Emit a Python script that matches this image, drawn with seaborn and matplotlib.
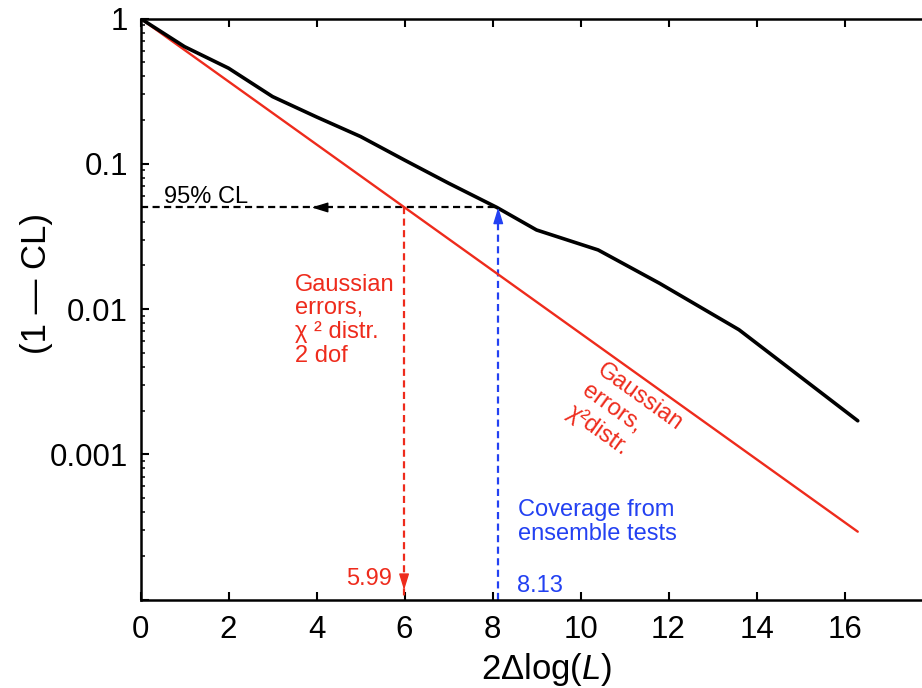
import matplotlib
matplotlib.use("Agg")
import matplotlib.pyplot as plt
import pandas as pd
import seaborn as sns
from matplotlib.ticker import FixedLocator, FixedFormatter, LogLocator, NullFormatter, NullLocator

# ---------------- data ----------------
coverage_x = [0, 1, 2, 3, 4, 5, 6, 7, 8.1, 9, 10.4, 11.8, 13.6, 16.3]
coverage_y = [1.0, 0.64, 0.455, 0.29, 0.21, 0.154, 0.106, 0.0735, 0.05,
              0.035, 0.0255, 0.015, 0.0072, 0.0017]
gauss_x = [0, 16.3]
gauss_y = [1.0, 2.93e-4]
cl_level = 0.05
gauss_cut = 5.99
coverage_cut = 8.13
x_ticks = [0, 2, 4, 6, 8, 10, 12, 14, 16]
y_ticks = [1e-4, 1e-3, 1e-2, 1e-1, 1]
y_tick_labels = ["", "0.001", "0.01", "0.1", "1"]

RED = "#EE2B1C"
BLUE = "#2341F2"

sns.set_theme(style="ticks")
plt.rcParams["font.family"] = ["Liberation Sans", "DejaVu Sans"]
plt.rcParams["mathtext.fontset"] = "custom"
plt.rcParams["mathtext.rm"] = "Liberation Sans"
plt.rcParams["mathtext.it"] = "Liberation Sans:italic"

W, H = 922, 688
fig = plt.figure(figsize=(W / 100, H / 100), dpi=100)
left_px, right_px, top_px, bottom_px = 140.5, 922, 18.5, 599.5
ax = fig.add_axes([left_px / W, 1 - bottom_px / H,
                   (right_px - left_px) / W, (bottom_px - top_px) / H])

df_cov = pd.DataFrame({"x": coverage_x, "y": coverage_y})
df_gauss = pd.DataFrame({"x": gauss_x, "y": gauss_y})
sns.lineplot(data=df_gauss, x="x", y="y", color=RED, lw=1.7, ax=ax,
             estimator=None, sort=False, zorder=3)
sns.lineplot(data=df_cov, x="x", y="y", color="black", lw=2.6, ax=ax,
             estimator=None, sort=False, zorder=4)

ax.set_yscale("log")
ax.set_xlim(0, 17.76)
ax.set_ylim(1e-4, 1)

# guide lines
dash = (3.2, 2.0)
ax.plot([0, coverage_cut], [cl_level, cl_level], color="black", lw=1.6, dashes=dash, zorder=2)
ax.plot([gauss_cut, gauss_cut], [cl_level, 1e-4], color=RED, lw=1.6, dashes=dash, zorder=2)
ax.plot([coverage_cut, coverage_cut], [1e-4, cl_level], color=BLUE, lw=1.6, dashes=dash, zorder=2)


def head(tip, tail, color):
    ax.annotate("", xy=tip, xytext=tail,
                arrowprops=dict(arrowstyle="-|>,head_length=0.55,head_width=0.17",
                                color=color, lw=1.0, shrinkA=0, shrinkB=0,
                                mutation_scale=18), zorder=5)


head((3.89, cl_level), (4.22, cl_level), "black")
head((coverage_cut, cl_level), (coverage_cut, 0.040), BLUE)
head((gauss_cut, 1.16e-4), (gauss_cut, 1.45e-4), RED)

# ticks
ax.xaxis.set_major_locator(FixedLocator(x_ticks))
ax.xaxis.set_minor_locator(NullLocator())
ax.yaxis.set_major_locator(FixedLocator(y_ticks))
ax.yaxis.set_major_formatter(FixedFormatter(y_tick_labels))
ax.yaxis.set_minor_locator(LogLocator(base=10, subs=[2, 3, 4, 5, 6, 7, 8, 9]))
ax.yaxis.set_minor_formatter(NullFormatter())
ax.tick_params(axis="x", which="major", direction="in", top=True, bottom=True,
               length=6, width=1.5, labelsize=22.5, pad=11, colors="black")
ax.tick_params(axis="y", which="major", direction="in", left=True, right=False,
               length=6, width=1.5, labelsize=22.5, pad=9, colors="black")
ax.tick_params(axis="y", which="minor", direction="in", left=True, right=False,
               length=3.2, width=1.3)

for s in ["left", "bottom", "top"]:
    ax.spines[s].set_linewidth(1.8)
    ax.spines[s].set_color("black")
ax.spines["right"].set_visible(False)

ax.set_xlabel("2Δlog($\\mathit{L}$)", fontsize=25, color="black")
ax.set_ylabel("(1 — CL)", fontsize=25, color="black")
ax.xaxis.set_label_coords(0.52, -0.089)
ax.yaxis.set_label_coords(-0.112, 0.544)

# annotations
ax.text(0.545, 0.0541, "95% CL", fontsize=17, color="black", ha="left", va="baseline")
ax.text(3.5, 0.00434, "Gaussian\nerrors,\nχ ² distr.\n2 dof", fontsize=17, color=RED,
        ha="left", va="baseline", linespacing=1.1)
ax.text(5.705, 1.259e-4, "5.99", fontsize=17, color=RED, ha="right", va="baseline")
ax.text(8.57, 2.57e-4, "Coverage from\nensemble tests", fontsize=17, color=BLUE,
        ha="left", va="baseline", linespacing=1.1)
ax.text(8.545, 1.127e-4, "8.13", fontsize=17, color=BLUE, ha="left", va="baseline")
ax.text(11.0, 1.78e-3, "Gaussian\nerrors,\nχ²distr.", fontsize=17, color=RED,
        ha="center", va="center", rotation=-35.6, rotation_mode="anchor",
        multialignment="left", linespacing=1.22)

fig.savefig("out.png", dpi=100)
